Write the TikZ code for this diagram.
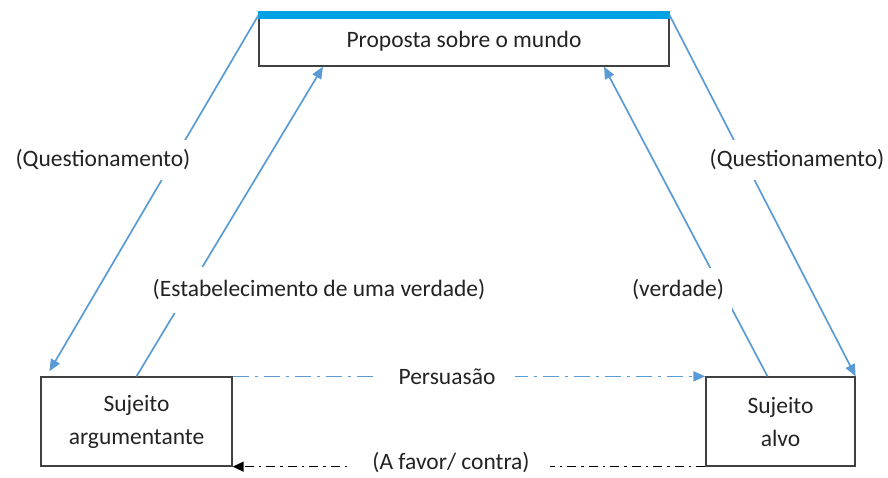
\documentclass[tikz,border=0pt]{standalone}
\usepackage{fontspec}
\setmainfont{Carlito}
\usetikzlibrary{arrows.meta}
\definecolor{ablue}{RGB}{91,155,213}
\definecolor{barblue}{RGB}{0,162,228}
\definecolor{txt}{RGB}{35,35,35}
\definecolor{boxgray}{RGB}{64,64,64}
\begin{document}
\begin{tikzpicture}[x=1pt,y=-1pt,
  every node/.style={font=\fontsize{23.5}{33}\selectfont, text=txt},
  box/.style={draw=boxgray, line width=1.3pt, align=center, inner sep=0pt},
  conn/.style={draw=ablue, line width=1.7pt, -{Triangle[length=12pt,width=10pt]}},
  lbl/.style={fill=white, inner xsep=4pt, inner ysep=10pt},
  persline/.style={draw=ablue, line width=1.7pt, dash pattern=on 16pt off 6pt on 3pt off 6pt, -{Triangle[length=12pt,width=10pt]}},
  favline/.style={draw=black, line width=1.4pt, dash pattern=on 9pt off 5pt on 2.5pt off 5pt, -{Triangle[length=11pt,width=10pt]}}]
\useasboundingbox (0,0) rectangle (888,477);
% boxes
\node[box, minimum width=410pt, minimum height=50pt] (top) at (464,41) {Proposta sobre o mundo};
\node[box, minimum width=191pt, minimum height=89pt] (la) at (136.5,421.5) {Sujeito\\argumentante};
\node[box, minimum width=149pt, minimum height=89pt] (ra) at (780.5,421.5) {Sujeito\\alvo};
\draw[barblue, line width=8pt] (top.north west) -- (top.north east);
% connectors
\draw[conn] (top.north west) -- ([xshift=9pt,yshift=5pt]la.north west);
\draw[conn] (top.north east) -- (ra.north east);
\draw[conn] (la.north) -- ([xshift=-141pt]top.south);
\draw[conn] ([xshift=-13pt]ra.north) -- ([xshift=140pt]top.south);
\draw[persline] (la.north east) -- (ra.north west);
\draw[favline] (ra.south west) -- (la.south east);
% labels
\node[lbl] (q1) at (103,160) {(Questionamento)};
\node[lbl] (q2) at (797,160) {(Questionamento)};
\node[lbl, inner ysep=13pt] (est) at (319,290) {(Estabelecimento de uma verdade)};
\node[lbl, inner xsep=8pt, inner ysep=12pt] (ver) at (678,290) {(verdade)};
\node[lbl, inner xsep=20pt, inner ysep=3pt] (per) at (447,377) {Persuasão};
\node[lbl, inner xsep=20pt, inner ysep=1pt] (fav) at (451,463) {(A favor/ contra)};
\end{tikzpicture}
\end{document}
